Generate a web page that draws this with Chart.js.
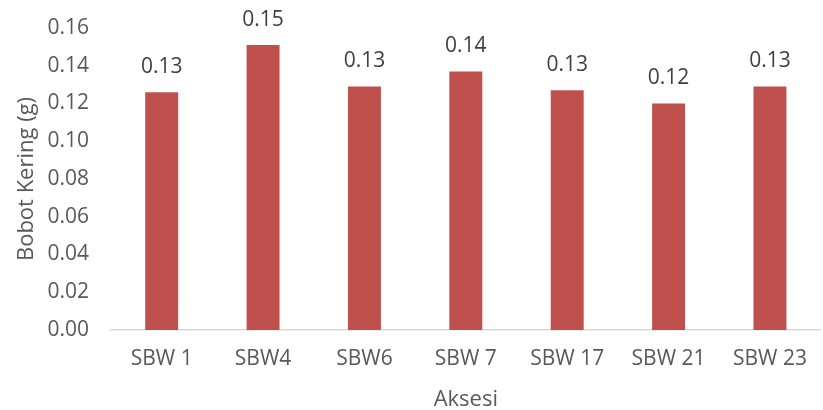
<!DOCTYPE html>
<html>
<head>
<meta charset="utf-8">
<script src="https://cdn.jsdelivr.net/npm/chart.js@4"></script>
<style>
  html, body { margin: 0; padding: 0; background: #fff; }
  #wrap { width: 823px; height: 410px; }
</style>
</head>
<body>
<div id="wrap"><canvas id="c" width="823" height="410"></canvas></div>
<script>
// Dry weight per accession
const categories = ['SBW 1', 'SBW4', 'SBW6', 'SBW 7', 'SBW 17', 'SBW 21', 'SBW 23'];
const bobotKering = [0.126, 0.151, 0.129, 0.137, 0.127, 0.120, 0.129];
const yTicks = [0.00, 0.02, 0.04, 0.06, 0.08, 0.10, 0.12, 0.14, 0.16];

const textColor = '#595959';
const fontFamily = '"Open Sans", "Liberation Sans", sans-serif';

// Writes each bar's value above it
const valueLabels = {
  id: 'valueLabels',
  afterDatasetsDraw(chart) {
    const ctx = chart.ctx;
    const meta = chart.getDatasetMeta(0);
    ctx.save();
    ctx.font = '21px ' + fontFamily;
    ctx.fillStyle = '#404040';
    ctx.textAlign = 'center';
    ctx.textBaseline = 'middle';
    meta.data.forEach((bar, i) => {
      ctx.fillText(bobotKering[i].toFixed(2), bar.x, bar.y - 25);
    });
    ctx.restore();
  }
};

new Chart(document.getElementById('c'), {
  type: 'bar',
  data: {
    labels: categories,
    datasets: [{
      data: bobotKering,
      backgroundColor: '#C0504D',
      borderWidth: 0,
      barPercentage: 0.65,
      categoryPercentage: 0.5
    }]
  },
  options: {
    responsive: false,
    animation: false,
    devicePixelRatio: 1,
    layout: { padding: { top: 28, right: 1, left: 0, bottom: 0 } },
    plugins: { legend: { display: false }, tooltip: { enabled: false } },
    scales: {
      x: {
        grid: { display: false, drawTicks: false },
        border: { display: true, color: '#D9D9D9', width: 1.5 },
        ticks: { color: textColor, font: { family: fontFamily, size: 21 }, padding: 16, maxRotation: 0 },
        title: { display: true, text: 'Aksesi', color: textColor, font: { family: fontFamily, size: 22 }, padding: { top: 6, bottom: -3 } },
        afterFit(scale) { scale.height = 80; }
      },
      y: {
        min: 0,
        max: 0.16,
        afterBuildTicks(scale) { scale.ticks = yTicks.map(v => ({ value: v })); },
        grid: { display: false, drawTicks: false },
        border: { display: false },
        ticks: {
          color: textColor,
          font: { family: fontFamily, size: 21 },
          padding: 22,
          callback: v => Number(v).toFixed(2)
        },
        title: { display: true, text: 'Bobot Kering (g)', color: textColor, font: { family: fontFamily, size: 22 }, padding: { top: 14, bottom: 0 } },
        afterFit(scale) {
          scale.width = 111;
          scale.paddingTop = 0;
          scale.paddingBottom = 0;
        }
      }
    }
  },
  plugins: [valueLabels]
});
</script>
</body>
</html>
